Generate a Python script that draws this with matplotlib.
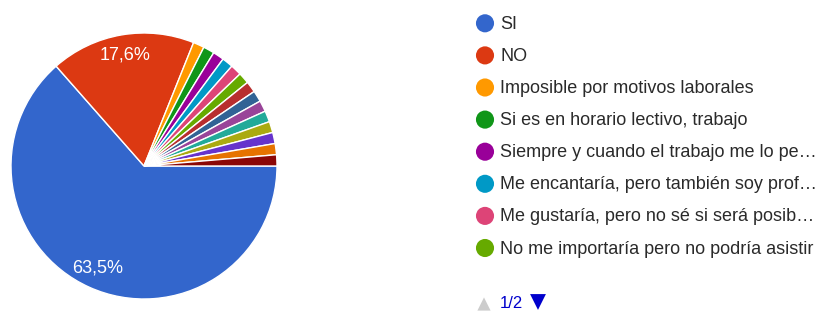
import matplotlib.pyplot as plt

plt.rcParams['font.family'] = ['Liberation Sans', 'DejaVu Sans']

# respuestas
categorias = ['SI', 'NO', 'Imposible por motivos laborales', 'Si es en horario lectivo, trabajo',
              'Siempre y cuando el trabajo me lo pe…', 'Me encantaría, pero también soy prof…',
              'Me gustaría, pero no sé si será posib…', 'No me importaría pero no podría asistir',
              'otra 9', 'otra 10', 'otra 11', 'otra 12', 'otra 13', 'otra 14', 'otra 15', 'otra 16']
respuestas = [47, 13, 1, 1, 1, 1, 1, 1, 1, 1, 1, 1, 1, 1, 1, 1]
colores = ['#3366cc', '#dc3912', '#ff9900', '#109618', '#990099', '#0099c6', '#dd4477', '#66aa00',
           '#b82e2e', '#316395', '#994499', '#22aa99', '#aaaa11', '#6633cc', '#e67300', '#8b0707']
leyenda_visible = 8
pagina = '1/2'

fig = plt.figure(figsize=(8.25, 3.14), dpi=100)
W, H = 825, 314
cx, cy, r = 144, 166, 133
ax = fig.add_axes([(cx - r) / W, (H - cy - r) / H, 2 * r / W, 2 * r / H])

def etiqueta(p):
    return ('%.1f%%' % p).replace('.', ',') if p > 5 else ''

wedges, textos, autotextos = ax.pie(respuestas, colors=colores, startangle=0, counterclock=False,
                                    autopct=etiqueta, pctdistance=0.845,
                                    wedgeprops=dict(edgecolor='white', linewidth=1))
for t in autotextos:
    t.set_color('white')
    t.set_fontsize(13)
ax.set_xlim(-1, 1)
ax.set_ylim(-1, 1)
ax.set_aspect('equal')
ax.axis('off')

# leyenda manual (pagina 1 de 2)
lx = fig.add_axes([0, 0, 1, 1])
lx.set_xlim(0, W)
lx.set_ylim(H, 0)
lx.axis('off')
for i in range(leyenda_visible):
    y = 23.3 + i * 32.1
    lx.scatter(485, y, s=170, color=colores[i], edgecolors='none')
    lx.text(500, y + 1, categorias[i], fontsize=13, color='#2a2a2a', va='center', ha='left')

lx.scatter(484, 304, s=90, marker='^', color='#cccccc', edgecolors='none')
lx.text(500, 304, pagina, fontsize=12, color='#0000cc', va='center', ha='left')
lx.scatter(538, 302, s=130, marker='v', color='#0000cc', edgecolors='none')

fig.savefig('out.png', dpi=100)
